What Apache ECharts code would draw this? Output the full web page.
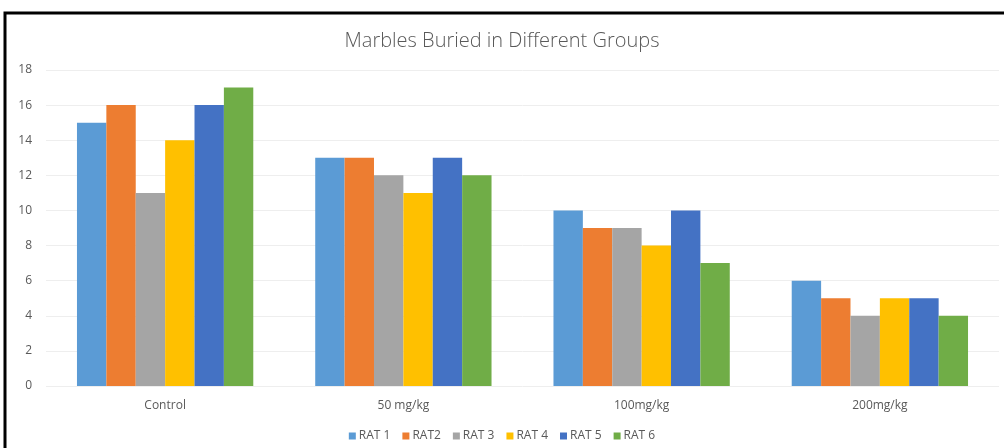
<!DOCTYPE html>
<html>
<head>
<meta charset="utf-8">
<script src="https://cdn.jsdelivr.net/npm/echarts@6/dist/echarts.min.js"></script>
<style>
  html, body { margin: 0; padding: 0; background: #ffffff; }
  #chart { width: 1004px; height: 448px; }
</style>
</head>
<body>
<div id="chart"></div>
<script>
const groups = ['Control', '50 mg/kg', '100mg/kg', '200mg/kg'];
const ratNames = ['RAT 1', 'RAT2', 'RAT 3', 'RAT 4', 'RAT 5', 'RAT 6'];
const rat1 = [15, 13, 10, 6];
const rat2 = [16, 13, 9, 5];
const rat3 = [11, 12, 9, 4];
const rat4 = [14, 11, 8, 5];
const rat5 = [16, 13, 10, 5];
const rat6 = [17, 12, 7, 4];
const ratValues = [rat1, rat2, rat3, rat4, rat5, rat6];
const colors = ['#5b9bd5', '#ed7d31', '#a5a5a5', '#ffc000', '#4472c4', '#70ad47'];

const chart = echarts.init(document.getElementById('chart'));
const font = 'Open Sans';

chart.setOption({
    animation: false,
    backgroundColor: '#ffffff',
    color: colors,
    title: {
        text: 'Marbles Buried in Different Groups',
        left: 'center',
        top: 26,
        textStyle: { color: '#595959', fontSize: 20, fontWeight: 300, fontFamily: font }
    },
    legend: {
        data: ratNames,
        bottom: 1,
        left: 'center',
        itemWidth: 7,
        itemHeight: 7,
        itemGap: 12,
        icon: 'rect',
        textStyle: { color: '#595959', fontSize: 12, fontFamily: font, padding: [0, 0, 0, -2] }
    },
    grid: { left: 46, right: 5, top: 70, bottom: 62 },
    xAxis: {
        type: 'category',
        data: groups,
        axisLine: { show: false },
        axisTick: { show: false },
        axisLabel: { color: '#595959', fontSize: 12, fontFamily: font, margin: 14 }
    },
    yAxis: {
        type: 'value',
        min: 0,
        max: 18,
        interval: 2,
        axisLine: { show: false },
        axisTick: { show: false },
        axisLabel: { color: '#595959', fontSize: 12, fontFamily: font, margin: 14 },
        splitLine: { lineStyle: { color: '#eeeeee', width: 1 } }
    },
    series: ratNames.map((name, i) => ({
        name: name,
        type: 'bar',
        data: ratValues[i],
        barGap: '0%',
        barCategoryGap: '26%',
        itemStyle: { color: colors[i] }
    })),
    graphic: [{
        type: 'polyline',
        shape: { points: [[5, 448], [5, 13], [1004, 13]] },
        style: { stroke: '#000000', lineWidth: 3, fill: null },
        z: 100
    }]
});
</script>
</body>
</html>
